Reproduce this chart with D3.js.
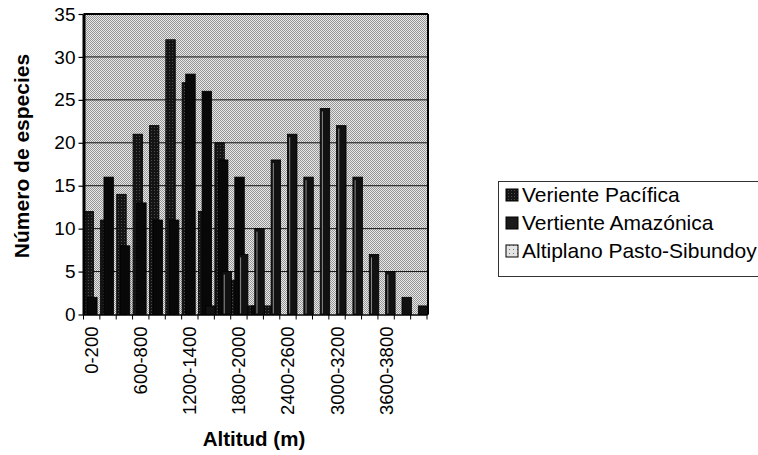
<!DOCTYPE html>
<html>
<head>
<meta charset="utf-8">
<script src="https://cdn.jsdelivr.net/npm/d3@7"></script>
<style>
  html, body { margin: 0; padding: 0; background: #fff; }
  svg { display: block; font-family: "Liberation Sans", Arial, sans-serif; }
</style>
</head>
<body>
<svg id="chart" width="758" height="455"></svg>
<script>
// ---- data ----
const categories = ["0-200","200-400","400-600","600-800","800-1000","1000-1200","1200-1400",
  "1400-1600","1600-1800","1800-2000","2000-2200","2200-2400","2400-2600","2600-2800",
  "2800-3000","3000-3200","3200-3400","3400-3600","3600-3800","3800-4000","4000-4200"];
const seriesNames = ["Veriente Pacífica", "Vertiente Amazónica", "Altiplano Pasto-Sibundoy"];
const pacifica  = [12, 11, 14, 21, 22, 32, 27, 12, 20, 4, 1, 1, 0, 0, 0, 0, 0, 0, 0, 0, 0];
const amazonica = [2, 16, 8, 13, 11, 11, 28, 26, 18, 16, 1, 0, 0, 0, 0, 0, 0, 0, 0, 0, 0];
const altiplano = [0, 0, 0, 0, 0, 0, 0, 1, 5, 7, 10, 18, 21, 16, 24, 22, 16, 7, 5, 2, 1];
const yTicks = [0, 5, 10, 15, 20, 25, 30, 35];
const xTitle = "Altitud (m)";
const yTitle = "Número de especies";

// ---- layout ----
const svg = d3.select("#chart");
const pL = 83.5, pR = 427, pT = 14, pB = 314.5;

const x = d3.scaleBand().domain(categories).range([pL, pR]).padding(0);
const y = d3.scaleLinear().domain([0, 35]).range([pB, pT]);

const defs = svg.append("defs");
const bg = defs.append("pattern").attr("id", "bgdots").attr("patternUnits", "userSpaceOnUse")
  .attr("width", 2).attr("height", 2);
bg.append("rect").attr("width", 2).attr("height", 2).attr("fill", "#e8e8e8");
bg.append("rect").attr("x", 0).attr("y", 0).attr("width", 1).attr("height", 1).attr("fill", "#959595");
bg.append("rect").attr("x", 1).attr("y", 1).attr("width", 1).attr("height", 1).attr("fill", "#959595");

const pg = defs.append("pattern").attr("id", "pacgrid").attr("patternUnits", "userSpaceOnUse")
  .attr("width", 3).attr("height", 3);
pg.append("rect").attr("width", 3).attr("height", 3).attr("fill", "#141414");
pg.append("rect").attr("x", 1).attr("y", 1).attr("width", 1).attr("height", 1).attr("fill", "#4a4a4a");

const ap = defs.append("pattern").attr("id", "altdots").attr("patternUnits", "userSpaceOnUse")
  .attr("width", 4).attr("height", 4);
ap.append("rect").attr("width", 4).attr("height", 4).attr("fill", "#e4e4e4");
ap.append("rect").attr("x", 1).attr("y", 1).attr("width", 1).attr("height", 1).attr("fill", "#777");

svg.append("rect").attr("x", pL).attr("y", pT).attr("width", pR - pL).attr("height", pB - pT)
  .attr("fill", "url(#bgdots)");

svg.append("g").selectAll("line").data(yTicks.filter(v => v > 0 && v < 35)).join("line")
  .attr("x1", pL).attr("x2", pR).attr("y1", d => y(d)).attr("y2", d => y(d))
  .attr("stroke", "#111").attr("stroke-width", 1);

const step = x.bandwidth();
const barW = step * 0.58, off = step * 0.22;
const series = [
  { name: seriesNames[0], values: pacifica,  fill: "url(#pacgrid)" },
  { name: seriesNames[1], values: amazonica, fill: "#080808" },
  { name: seriesNames[2], values: altiplano, fill: "#111" }
];
series.forEach((s, j) => {
  const g = svg.append("g");
  const data = categories.map((c, i) => ({ c, v: s.values[i] })).filter(d => d.v > 0);
  g.selectAll("rect").data(data).join("rect")
    .attr("x", d => x(d.c) + 0.5 + j * off)
    .attr("y", d => y(d.v))
    .attr("width", barW)
    .attr("height", d => y(0) - y(d.v))
    .attr("fill", s.fill)
    .attr("stroke", "#000").attr("stroke-width", 0.8);
  if (j === 2) {
    g.selectAll("line").data(data.filter(d => d.v >= 3)).join("line")
      .attr("x1", d => x(d.c) + 0.5 + j * off + 2.2)
      .attr("x2", d => x(d.c) + 0.5 + j * off + 2.2)
      .attr("y1", d => y(d.v) + 3)
      .attr("y2", y(0) - 1)
      .attr("stroke", "#9a9a9a").attr("stroke-width", 0.9);
  }
});

svg.append("line").attr("x1", pL).attr("x2", pR + 1).attr("y1", pT).attr("y2", pT)
  .attr("stroke", "#000").attr("stroke-width", 2);
svg.append("line").attr("x1", pR + 1).attr("x2", pR + 1).attr("y1", pT).attr("y2", pB)
  .attr("stroke", "#000").attr("stroke-width", 2);

const yAxis = svg.append("g").attr("transform", `translate(${pL},0)`)
  .call(d3.axisLeft(y).tickValues(yTicks).tickSize(5).tickSizeOuter(0).tickPadding(3));
yAxis.select(".domain").attr("stroke", "#000").attr("stroke-width", 3);
yAxis.selectAll(".tick line").attr("stroke", "#000").attr("stroke-width", 1.2);
yAxis.selectAll(".tick text").attr("font-size", 19).attr("fill", "#000")
  .attr("font-family", "Liberation Sans, Arial, sans-serif");

const xAxis = svg.append("g").attr("transform", `translate(0,${pB})`)
  .call(d3.axisBottom(x).tickSize(0).tickFormat((d, i) => i % 3 === 0 ? d : ""));
xAxis.select(".domain").attr("stroke", "#000").attr("stroke-width", 1.5);
xAxis.selectAll(".tick text")
  .attr("font-size", 18.5).attr("fill", "#000")
  .attr("font-family", "Liberation Sans, Arial, sans-serif")
  .attr("text-anchor", "end")
  .attr("transform", "rotate(-90)")
  .attr("x", -12).attr("y", 0).attr("dy", "0.35em");
svg.append("g").selectAll("line").data(categories.concat(["end"])).join("line")
  .attr("x1", (d, i) => pL + i * step).attr("x2", (d, i) => pL + i * step)
  .attr("y1", pB).attr("y2", pB + 5)
  .attr("stroke", "#000").attr("stroke-width", 1);

svg.append("text").attr("x", 254).attr("y", 446)
  .attr("text-anchor", "middle").attr("font-weight", "bold").attr("font-size", 20.5)
  .text(xTitle);
svg.append("text").attr("transform", `translate(29,156) rotate(-90)`)
  .attr("text-anchor", "middle").attr("font-weight", "bold").attr("font-size", 21)
  .text(yTitle);

const lg = svg.append("g");
lg.append("rect").attr("x", 498.5).attr("y", 181.5).attr("width", 270).attr("height", 95)
  .attr("fill", "#fff").attr("stroke", "#333").attr("stroke-width", 1);
const legendFills = ["url(#pacgrid)", "#1a1a1a", "url(#altdots)"];
seriesNames.forEach((n, i) => {
  const cy = 195 + i * 28;
  lg.append("rect").attr("x", 506).attr("y", cy - 6).attr("width", 12).attr("height", 12)
    .attr("fill", legendFills[i]).attr("stroke", "#000").attr("stroke-width", 1);
  lg.append("text").attr("x", 522).attr("y", cy).attr("dy", "0.35em")
    .attr("font-size", 21).text(n);
});
</script>
</body>
</html>
